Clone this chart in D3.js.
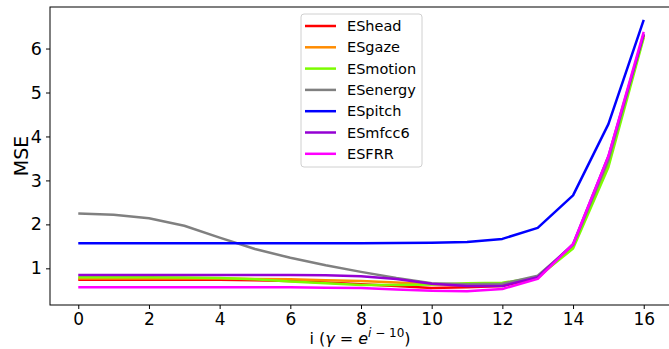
<!DOCTYPE html>
<html>
<head>
<meta charset="utf-8">
<script src="https://cdn.jsdelivr.net/npm/d3@7"></script>
<style>
  body { margin: 0; background: #fff; }
  svg text { font-family: "DejaVu Sans", sans-serif; }
</style>
</head>
<body>
<div id="chart"></div>
<script>
'use strict'

// x positions: i = 0..16
const steps = d3.range(0, 17)
const xTicks = [0, 2, 4, 6, 8, 10, 12, 14, 16]
const yTicks = [1, 2, 3, 4, 5, 6]

const seriesNames = ["EShead", "ESgaze", "ESmotion", "ESenergy", "ESpitch", "ESmfcc6", "ESFRR"]
const seriesColors = ["#ff0000", "#ff8c00", "#7cfc00", "#808080", "#0000ff", "#9400d3", "#ff00ff"]

const esHead   = [0.74,0.74,0.74,0.74,0.74,0.73,0.71,0.68,0.64,0.60,0.55,0.57,0.60,0.78,1.52,3.50,6.30]
const esGaze   = [0.77,0.77,0.77,0.77,0.77,0.76,0.75,0.73,0.71,0.68,0.64,0.62,0.63,0.80,1.50,3.40,6.30]
const esMotion = [0.80,0.80,0.80,0.79,0.78,0.75,0.70,0.66,0.62,0.62,0.63,0.66,0.67,0.80,1.45,3.30,6.25]
const esEnergy = [2.25,2.22,2.14,1.97,1.70,1.44,1.24,1.07,0.92,0.78,0.66,0.64,0.65,0.83,1.53,3.45,6.33]
const esPitch  = [1.57,1.57,1.57,1.57,1.57,1.57,1.57,1.57,1.57,1.575,1.58,1.60,1.67,1.92,2.66,4.28,6.65]
const esMfcc6  = [0.85,0.85,0.85,0.85,0.85,0.85,0.85,0.84,0.82,0.76,0.65,0.60,0.60,0.80,1.55,3.55,6.32]
const esFRR    = [0.57,0.57,0.57,0.57,0.57,0.57,0.57,0.56,0.55,0.52,0.49,0.48,0.53,0.76,1.55,3.55,6.38]

const seriesValues = [esHead, esGaze, esMotion, esEnergy, esPitch, esMfcc6, esFRR]

const width = 669, height = 349
const margin = {left: 50, right: -3, top: 7, bottom: 44}

const svg = d3.select("#chart").append("svg")
  .attr("width", width)
  .attr("height", height)

const x = d3.scaleLinear().domain([-0.8, 16.8]).range([margin.left, width - margin.right])
const y = d3.scaleLinear().domain([0.166, 6.945]).range([height - margin.bottom, margin.top])

// lines
const line = d3.line()
  .x((d, i) => x(steps[i]))
  .y(d => y(d))

svg.append("g")
  .selectAll("path")
  .data(seriesValues)
  .enter().append("path")
    .attr("d", d => line(d))
    .attr("fill", "none")
    .attr("stroke", (d, i) => seriesColors[i])
    .attr("stroke-width", 2.5)
    .attr("stroke-linejoin", "round")

// spines
const x0 = margin.left, x1 = width - margin.right
const y0 = height - margin.bottom, y1 = margin.top
svg.append("rect")
  .attr("x", x0).attr("y", y1)
  .attr("width", x1 - x0).attr("height", y0 - y1)
  .attr("fill", "none").attr("stroke", "#000").attr("stroke-width", 1)

// x axis
const xAxis = svg.append("g").attr("transform", "translate(0," + y0 + ")")
  .call(d3.axisBottom(x).tickValues(xTicks).tickSize(4).tickPadding(4).tickFormat(d3.format("d")))
xAxis.select(".domain").remove()
xAxis.selectAll("text").attr("font-size", 17).attr("fill", "#000")
  .attr("font-family", "DejaVu Sans")

// y axis
const yAxis = svg.append("g").attr("transform", "translate(" + x0 + ",0)")
  .call(d3.axisLeft(y).tickValues(yTicks).tickSize(4).tickPadding(4).tickFormat(d3.format("d")))
yAxis.select(".domain").remove()
yAxis.selectAll("text").attr("font-size", 17.5).attr("fill", "#000")
  .attr("font-family", "DejaVu Sans")

// axis labels
svg.append("text")
  .attr("transform", "translate(28," + ((y0 + y1) / 2) + ") rotate(-90)")
  .attr("text-anchor", "middle")
  .attr("font-size", 19)
  .text("MSE")

const xl = svg.append("text")
  .attr("x", 360).attr("y", 344)
  .attr("text-anchor", "middle")
  .attr("font-size", 16)
xl.append("tspan").text("i (")
xl.append("tspan").attr("font-style", "italic").text("γ")
xl.append("tspan").text(" =  ")
xl.append("tspan").attr("font-style", "italic").text("e")
xl.append("tspan").attr("dy", -7).attr("font-size", 12).attr("font-style", "italic").text("i")
xl.append("tspan").attr("font-size", 12).text(" − 10")
xl.append("tspan").attr("dy", 7).text(")")

// legend
const lg = svg.append("g").attr("transform", "translate(301,14)")
lg.append("rect")
  .attr("width", 121).attr("height", 153)
  .attr("rx", 3)
  .attr("fill", "#fff").attr("fill-opacity", 0.8)
  .attr("stroke", "#d0d0d0")

const item = lg.selectAll("g.item")
  .data(seriesNames)
  .enter().append("g")
    .attr("class", "item")
    .attr("transform", (d, i) => "translate(0," + (12 + i * 21.3) + ")")

item.append("line")
  .attr("x1", 4).attr("x2", 35)
  .attr("stroke", (d, i) => seriesColors[i])
  .attr("stroke-width", 2.5)

item.append("text")
  .attr("x", 46).attr("dy", "0.35em")
  .attr("font-size", 14.5)
  .text(d => d)
</script>
</body>
</html>
